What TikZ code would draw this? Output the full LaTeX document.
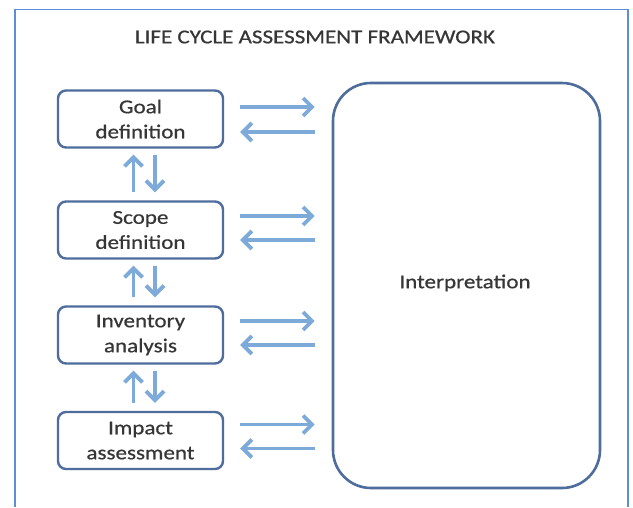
\documentclass[tikz,border=0pt]{standalone}
\usepackage{fontspec}
\setmainfont{Carlito}[FakeStretch=1.17,FakeBold=0.6]
\usetikzlibrary{arrows.meta,calc}
\definecolor{framec}{HTML}{5C8FD6}
\definecolor{boxc}{HTML}{4E6C9C}
\definecolor{arrc}{HTML}{7EAADA}
\definecolor{txtc}{HTML}{363636}
\begin{document}
\begin{tikzpicture}[x=1pt,y=-1pt,
  stagebox/.style={draw=boxc, line width=2.4pt, rounded corners=8pt, minimum width=165pt, minimum height=57pt, align=center, text=txtc, font=\fontsize{19.7}{25}\selectfont, inner sep=0pt},
  interpbox/.style={draw=boxc, line width=2.6pt, rounded corners=38pt, minimum width=267pt, minimum height=405pt, inner sep=0pt},
  arr/.style={draw=arrc, line width=3.8pt, -{Straight Barb[length=9pt,width=18pt,line width=3.8pt]}},
  lbl/.style={text=txtc, font=\fontsize{19.7}{25}\selectfont, inner sep=0pt}]
\useasboundingbox (0,0) rectangle (633,507);
\fill[white] (0,0) rectangle (633,507);
\draw[framec, line width=1.6pt] (15,507) -- (15,9.5) -- (628,9.5) -- (628,507);
\node[lbl] (title) at (315,37) {LIFE CYCLE ASSESSMENT FRAMEWORK};
\node[stagebox] (goal) at (140.5,119) {Goal\\definition};
\node[stagebox] (scope) at (140.5,230) {Scope\\definition};
\node[stagebox] (inv) at (140.5,335) {Inventory\\analysis};
\node[stagebox] (imp) at (140.5,440.5) {Impact\\assessment};
\node[interpbox] (interp) at (466.5,285.5) {};
\node[lbl] (interptext) at (465,283) {Interpretation};
% horizontal arrows
\foreach \b/\u/\d in {goal/12/-13, scope/14/-10, inv/14/-10, imp/16/-8}{
  \draw[arr, shorten <=16pt, shorten >=17pt] ([yshift=\u pt]\b.east) -- ([yshift=\u pt]\b.east -| interp.west);
  \draw[arr, shorten <=17pt, shorten >=16pt] ([yshift=\d pt]\b.east -| interp.west) -- ([yshift=\d pt]\b.east);
}
% vertical arrows
\foreach \a/\b in {goal/scope, scope/inv, inv/imp}{
  \draw[arr, shorten <=8pt, shorten >=6pt] ([xshift=-7pt]\b.north) -- ([xshift=-7pt]\a.south);
  \draw[arr, shorten <=6pt, shorten >=8pt] ([xshift=14.5pt]\a.south) -- ([xshift=14.5pt]\b.north);
}
\end{tikzpicture}
\end{document}
